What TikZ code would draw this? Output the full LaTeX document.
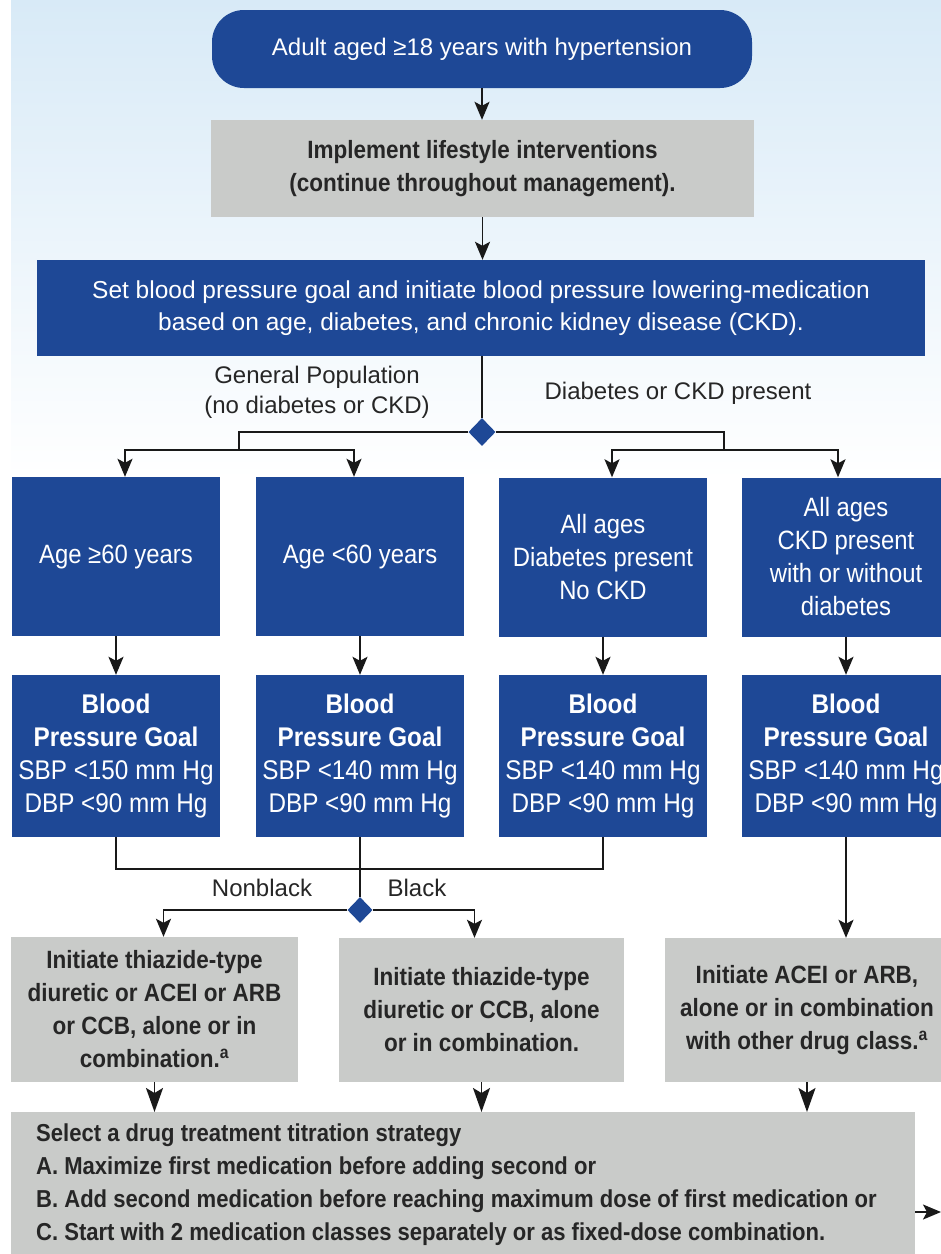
\documentclass[tikz,border=0pt]{standalone}
\usepackage{fontspec}
\setmainfont{Liberation Sans}
\newfontfamily\condfont{Liberation Sans}[FakeStretch=0.9]
\usetikzlibrary{shapes.geometric,arrows.meta,calc}
\definecolor{nblue}{HTML}{1E4896}
\definecolor{ngray}{HTML}{C9CBC9}
\definecolor{bgblue}{HTML}{D8EAF7}
\begin{document}
\begin{tikzpicture}[x=1pt,y=-1pt,
 bluebox/.style={fill=nblue,text=white,inner sep=0pt,align=center},
 graybox/.style={fill=ngray,text=black!85,inner sep=0pt,align=center,font=\condfont\bfseries\fontsize{25}{33}\selectfont},
 rowone/.style={bluebox,minimum width=208pt,minimum height=159pt,font=\condfont\fontsize{26.5}{33}\selectfont},
 rowtwo/.style={bluebox,minimum width=208pt,minimum height=162pt,font=\condfont\fontsize{27}{33}\selectfont},
 conn/.style={line width=1.9pt,black!90},
 arr/.style={conn,-{Stealth[length=18pt,width=15pt,inset=4pt]}},
 arrbig/.style={conn,-{Stealth[length=24pt,width=17pt,inset=5pt]}},
 dmd/.style={diamond,fill=nblue,inner sep=0pt},
 lbl/.style={align=center,text=black!85,font=\fontsize{24}{30}\selectfont}]
\useasboundingbox (0,0) rectangle (941,1254);
\fill[white] (0,0) rectangle (941,1254);
\shade[top color=bgblue,bottom color=white] (11,0) rectangle (941,480);

\node[bluebox,rounded corners=32pt,minimum width=540pt,minimum height=78pt,font=\fontsize{24}{30}\selectfont] (start) at (482,49) {Adult aged ≥18 years with hypertension};
\node[graybox,minimum width=543pt,minimum height=97pt] (life) at (482.5,168.5) {Implement lifestyle interventions\\(continue throughout management).};
\node[bluebox,minimum width=888pt,minimum height=96pt,font=\fontsize{24.5}{32}\selectfont] (goalset) at (481,308) {Set blood pressure goal and initiate blood pressure lowering-medication\\based on age, diabetes, and chronic kidney disease (CKD).};
\node[dmd,minimum width=27pt,minimum height=28pt] (d1) at (482,432) {};
\node[lbl] (gp) at (317,392) {General Population\\(no diabetes or CKD)};
\node[lbl] (dc) at (678,393) {Diabetes or CKD present};

\node[rowone] (a1) at (116,556.5) {Age ≥60 years};
\node[rowone] (b1) at (360,556.5) {Age <60 years};
\node[rowone] (c1) at (603,557) {All ages\\Diabetes present\\No CKD};
\node[rowone] (e1) at (846,557) {All ages\\CKD present\\with or without\\diabetes};

\node[rowtwo] (a2) at (116,756) {\textbf{Blood}\\\textbf{Pressure Goal}\\SBP <150 mm Hg\\DBP <90 mm Hg};
\node[rowtwo] (b2) at (360,756) {\textbf{Blood}\\\textbf{Pressure Goal}\\SBP <140 mm Hg\\DBP <90 mm Hg};
\node[rowtwo] (c2) at (603,756) {\textbf{Blood}\\\textbf{Pressure Goal}\\SBP <140 mm Hg\\DBP <90 mm Hg};
\node[rowtwo] (e2) at (846,756) {\textbf{Blood}\\\textbf{Pressure Goal}\\SBP <140 mm Hg\\DBP <90 mm Hg};

\node[dmd,minimum width=25pt,minimum height=26pt] (d2) at (360,910) {};
\node[lbl] (nb) at (262,888) {Nonblack};
\node[lbl] (bl) at (417,888) {Black};

\node[graybox,minimum width=287pt,minimum height=145pt] (g1) at (154.5,1009.5) {Initiate thiazide-type\\diuretic or ACEI or ARB\\or CCB, alone or in\\combination.\textsuperscript{a}};
\node[graybox,minimum width=285pt,minimum height=144pt] (g2) at (481.5,1010) {Initiate thiazide-type\\diuretic or CCB, alone\\or in combination.};
\node[graybox,minimum width=284pt,minimum height=144pt] (g3) at (807,1010) {Initiate ACEI or ARB,\\alone or in combination\\with other drug class.\textsuperscript{a}};

\node[graybox,anchor=north west,minimum width=904pt,minimum height=150pt] (sel) at (11,1112) {};
\node[anchor=west,align=left,inner sep=0pt,text=black!85,font=\condfont\bfseries\fontsize{24.5}{33}\selectfont] (seltext) at (36,1185) {Select a drug treatment titration strategy\\A. Maximize first medication before adding second or\\B. Add second medication before reaching maximum dose of first medication or\\C. Start with 2 medication classes separately or as fixed-dose combination.};

\draw[arr] (start.south) -- (start.south |- life.north);
\draw[arr] (life.south) -- (life.south |- goalset.north);
\draw[conn] (goalset.south -| d1) -- (d1.north);
\coordinate (j1) at (239,450);
\coordinate (j2) at (724,450);
\draw[conn] (d1.west) -| (j1);
\draw[conn] (d1.east) -| (j2);
\draw[arr] (j1) -| ([xshift=9pt]a1.north);
\draw[arr] (j1) -| ([xshift=-6pt]b1.north);
\draw[arr] (j2) -| ([xshift=9pt]c1.north);
\draw[arr] (j2) -| ([xshift=-8pt]e1.north);
\foreach \n in {a,b,c,e} {\draw[arr] (\n1.south) -- (\n2.north);}
\coordinate (j3) at (360,869);
\draw[conn] (a2.south) |- (j3);
\draw[conn] (c2.south) |- (j3);
\draw[conn] (b2.south) -- (d2.north);
\draw[arr] (d2.west) -| ([xshift=9pt]g1.north);
\draw[arr] (d2.east) -| ([xshift=-7pt]g2.north);
\draw[arr] (e2.south) -- (e2.south |- g3.north);
\foreach \n in {g1,g2,g3} {\draw[arrbig] (\n.south) -- (\n.south |- sel.north);}
\coordinate (out) at (941,1212);
\draw[arr] (sel.east |- out) -- (out);
\end{tikzpicture}
\end{document}
